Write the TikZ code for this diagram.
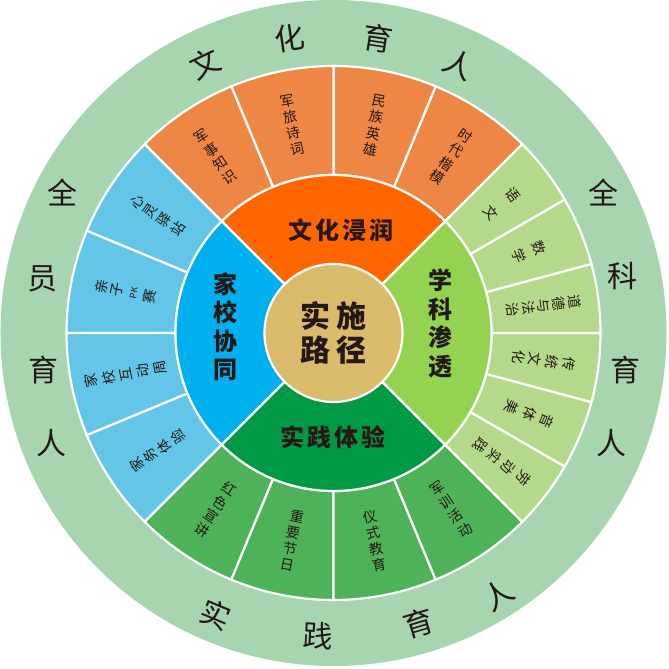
\documentclass[tikz,border=0pt]{standalone}
\usepackage{fontspec}
\newfontfamily\cjk{Noto Sans CJK SC}
\usepackage{xcolor}
\definecolor{ringbg}{HTML}{A7D5B0}
\definecolor{orangeout}{HTML}{EE8646}
\definecolor{orangemid}{HTML}{FF6600}
\definecolor{blueout}{HTML}{63C5E7}
\definecolor{bluemid}{HTML}{00B0EE}
\definecolor{greenout}{HTML}{4EB358}
\definecolor{greenmid}{HTML}{009A46}
\definecolor{limeout}{HTML}{B5D98A}
\definecolor{limemid}{HTML}{94D351}
\definecolor{hubcol}{HTML}{DABA6B}
\definecolor{ink}{HTML}{231815}

\begin{document}
\begin{tikzpicture}[x=1pt, y=1pt]
    % seg = outer sector, mid = quadrant, hub = centre circle
    \tikzstyle{wedge}=[draw=white, line width=2.2pt]
    \tikzstyle{segchar}=[text=ink, inner sep=0, font=\cjk\fontsize{14}{14}\selectfont]
    \tikzstyle{midlabel}=[text=ink, inner sep=0, align=center, font=\cjk\bfseries\fontsize{24}{28.5}\selectfont]
    \tikzstyle{ringchar}=[text=ink, inner sep=0, font=\cjk\fontsize{30}{30}\selectfont]
    \useasboundingbox (-333.5,-336) rectangle (335.5,333);
    \fill[ringbg] (0,0) circle[radius=333];

    % outer sectors
    \foreach \a/\b/\c in {45/67.5/orangeout, 67.5/90/orangeout, 90/112.5/orangeout, 112.5/135/orangeout,
                          135/157.5/blueout, 157.5/180/blueout, 180/202.5/blueout, 202.5/225/blueout,
                          225/247.5/greenout, 247.5/270/greenout, 270/292.5/greenout, 292.5/315/greenout,
                          -45/-30/limeout, -30/-15/limeout, -15/0/limeout, 0/15/limeout, 15/30/limeout, 30/45/limeout}
        \filldraw[wedge, fill=\c] (\a:158) arc[start angle=\a, end angle=\b, radius=158]
            -- (\b:267) arc[start angle=\b, end angle=\a, radius=267] -- cycle;

    % quadrants
    \foreach \a/\c in {45/orangemid, 135/bluemid, 225/greenmid, -45/limemid}
        \filldraw[wedge, fill=\c] (0,0) -- (\a:158) arc[start angle=\a, delta angle=90, radius=158] -- cycle;

    \node[circle, fill=hubcol, draw=white, line width=2.2pt, minimum size=138pt, inner sep=0,
          text=ink, align=center, font=\cjk\bfseries\fontsize{30}{34}\selectfont] (hub) at (0,0)
          {实\hspace{6pt}施\\路\hspace{6pt}径};

    \node[midlabel] (culture) at (8,103) {文\hspace{3pt}化\hspace{3pt}浸\hspace{3pt}润};
    \node[midlabel] (practice) at (0,-104.5) {实\hspace{3pt}践\hspace{3pt}体\hspace{3pt}验};
    \node[midlabel] (family) at (-107.5,6.5) {家\\校\\协\\同};
    \node[midlabel] (subject) at (106.5,9.5) {学\\科\\渗\\透};

    % sector labels: angle / rotation / sign / pitch / count / chars
    \foreach \t/\r/\s/\p/\n/\chars [count=\k] in {
            123.75/33.75/1/16.5/4/{军,事,知,识}, 101.25/11.25/1/16.5/4/{军,旅,诗,词},
            78.75/-11.25/1/16.5/4/{民,族,英,雄}, 56.25/-33.75/1/16.5/4/{时,代,楷,模},
            146.25/56.25/1/16.5/4/{心,灵,驿,站}, 168.75/78.75/1/16.5/4/{亲,子,{\fontsize{9}{9}\selectfont PK},赛},
            191.25/101.25/1/17.5/5/{家,校,互,动,周}, 213.75/123.75/1/16.5/4/{家,务,体,验},
            236.25/-33.75/-1/16.5/4/{红,色,宣,讲}, 258.75/-11.25/-1/16.5/4/{重,要,节,日},
            281.25/11.25/-1/16.5/4/{仪,式,教,育}, 303.75/33.75/-1/16.5/4/{军,训,活,动},
            37.5/-52.5/1/28/2/{语,文}, 22.5/-67.5/1/22/2/{数,学}, 7.5/-82.5/1/15.5/5/{道,德,与,法,治},
            -7.5/-97.5/1/17/4/{传,统,文,化}, -22.5/-112.5/1/19/3/{音,体,美}, -37.5/-127.5/1/18/4/{劳,动,实,践}}
        \foreach \c [count=\j] in \chars
            \node[segchar, rotate=\r] (seg\k-\j) at (\t:{212+\s*((\n+1)/2-\j)*\p}) {\c};

    % ring text
    \foreach \ch/\x/\y/\r [count=\k] in {文/-128.5/269/25.5, 化/-43.5/295/8.4, 育/44.5/295/-8.6, 人/125.5/269/-25,
            全/-270.5/140/0, 员/-290.5/54/0, 育/-289.5/-37/0, 人/-281.5/-110/0,
            全/269.5/140/0, 科/288.5/57/0, 育/291.5/-37/0, 人/277.5/-110/0,
            实/-117.5/-282/-22.6, 践/-15.5/-303/-3, 育/85.5/-290/16.4, 人/164.5/-262/32.1}
        \node[ringchar, rotate=\r] (ring\k) at (\x,\y) {\ch};
\end{tikzpicture}
\end{document}
